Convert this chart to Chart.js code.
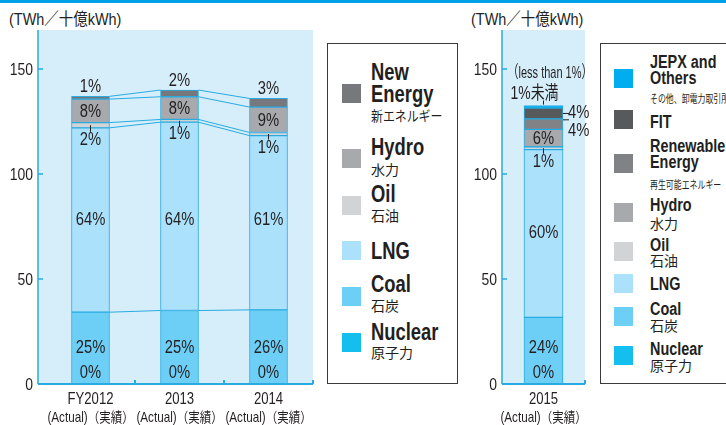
<!DOCTYPE html>
<html>
<head>
<meta charset="utf-8">
<script src="https://cdn.jsdelivr.net/npm/chart.js@4/dist/chart.umd.min.js"></script>
<style>
  html, body { margin: 0; padding: 0; background: #fff; }
  body { width: 726px; height: 425px; position: relative; overflow: hidden;
         font-family: 'Liberation Sans', 'Noto Sans CJK JP', sans-serif; color: #231f20; }
  #topline { position: absolute; left: 0; top: 0; width: 726px; height: 3px; background: #00a0e9; }
  .unit { position: absolute; top: 10px; font-size: 17px; line-height: 20px; white-space: nowrap;
          transform: scaleX(0.85); transform-origin: left center; }
  canvas { position: absolute; top: 0; }
  .legend { position: absolute; top: 43px; height: 339px; border: 1px solid #3a3a3a; background: #fff; }
  .sw { position: absolute; width: 19px; height: 19px; }
  .t { position: absolute; white-space: nowrap; transform-origin: left center; }
  .l1 { left: 43px; }
  .l2 { left: 49px; }
  .en1 { font-weight: bold; font-size: 23px; line-height: 22px; transform: scaleX(0.8); }
  .en2 { font-weight: bold; font-size: 18px; line-height: 16px; transform: scaleX(0.8); }
  .jp { font-family: 'Noto Sans CJK JP', sans-serif; font-size: 14px; line-height: 16px; }
  .jps { font-family: 'Noto Sans CJK JP', sans-serif; font-size: 11px; line-height: 13px; transform: scaleX(0.72); }
</style>
</head>
<body>
<div id="topline"></div>
<div class="unit" style="left:9px">(TWh／十億kWh)</div>
<div class="unit" style="left:471px">(TWh／十億kWh)</div>

<canvas id="chart1" width="325" height="425" style="left:0"></canvas>
<canvas id="chart2" width="140" height="425" style="left:460px"></canvas>

<div class="legend" style="left:327px; width:129px">
  <div class="sw" style="left:14px; top:40px; background:#77787b"></div>
  <div class="t l1 en1" style="top:17px">New</div>
  <div class="t l1 en1" style="top:39px">Energy</div>
  <div class="t l1 jp" style="top:63px; transform:scaleX(0.85)">新エネルギー</div>

  <div class="sw" style="left:14px; top:105px; background:#a7a9ac"></div>
  <div class="t l1 en1" style="top:92px">Hydro</div>
  <div class="t l1 jp" style="top:117px">水力</div>

  <div class="sw" style="left:14px; top:152px; background:#d1d3d4"></div>
  <div class="t l1 en1" style="top:139px">Oil</div>
  <div class="t l1 jp" style="top:163px">石油</div>

  <div class="sw" style="left:14px; top:197px; background:#abe1fa"></div>
  <div class="t l1 en1" style="top:196px">LNG</div>

  <div class="sw" style="left:14px; top:243px; background:#6dcff6"></div>
  <div class="t l1 en1" style="top:229px">Coal</div>
  <div class="t l1 jp" style="top:253px">石炭</div>

  <div class="sw" style="left:14px; top:289px; background:#14bff0"></div>
  <div class="t l1 en1" style="top:277px">Nuclear</div>
  <div class="t l1 jp" style="top:300px">原子力</div>
</div>

<div class="legend" style="left:600px; width:140px">
  <div class="sw" style="left:13px; top:25px; background:#00aeef"></div>
  <div class="t l2 en2" style="top:10px">JEPX and</div>
  <div class="t l2 en2" style="top:26px">Others</div>
  <div class="t l2 jps" style="top:48px">その他、卸電力取引所</div>

  <div class="sw" style="left:13px; top:66px; background:#58595b"></div>
  <div class="t l2 en2" style="top:70px">FIT</div>

  <div class="sw" style="left:13px; top:110px; background:#808285"></div>
  <div class="t l2 en2" style="top:94px">Renewable</div>
  <div class="t l2 en2" style="top:110px">Energy</div>
  <div class="t l2 jps" style="top:134px">再生可能エネルギー</div>

  <div class="sw" style="left:13px; top:159px; background:#a7a9ac"></div>
  <div class="t l2 en2" style="top:153px">Hydro</div>
  <div class="t l2 jp" style="top:171px">水力</div>

  <div class="sw" style="left:13px; top:198px; background:#d1d3d4"></div>
  <div class="t l2 en2" style="top:193px">Oil</div>
  <div class="t l2 jp" style="top:208px">石油</div>

  <div class="sw" style="left:13px; top:230px; background:#abe1fa"></div>
  <div class="t l2 en2" style="top:232px">LNG</div>

  <div class="sw" style="left:13px; top:263px; background:#6dcff6"></div>
  <div class="t l2 en2" style="top:257px">Coal</div>
  <div class="t l2 jp" style="top:273px">石炭</div>

  <div class="sw" style="left:13px; top:302px; background:#14bff0"></div>
  <div class="t l2 en2" style="top:297px">Nuclear</div>
  <div class="t l2 jp" style="top:313px">原子力</div>
</div>

<script>
// FY2012-2014 generation mix (TWh)
const years = ['FY2012', '2013', '2014'];
const nuclear = [0, 0, 0];
const coal = [34.2, 35.0, 35.3];
const lng = [87.8, 89.7, 83.0];
const oil = [2.5, 1.3, 1.5];
const hydro = [11.2, 10.8, 12.1];
const newEnergy = [1.3, 3.2, 4.1];

const nuclearPct = ['0%', '0%', '0%'];
const coalPct = ['25%', '25%', '26%'];
const lngPct = ['64%', '64%', '61%'];
const oilPct = ['2%', '1%', '1%'];
const hydroPct = ['8%', '8%', '9%'];
const newEnergyPct = ['1%', '2%', '3%'];

// FY2015
const years2015 = ['2015'];
const nuclear2015 = [0];
const coal2015 = [31.7];
const lng2015 = [79.9];
const oil2015 = [1.4];
const hydro2015 = [8.3];
const renewable2015 = [5.0];
const fit2015 = [5.1];
const jepx2015 = [1.2];

const nuclear2015Pct = ['0%'];
const coal2015Pct = ['24%'];
const lng2015Pct = ['60%'];
const oil2015Pct = ['1%'];
const hydro2015Pct = ['6%'];
const renewable2015Pct = ['4%'];
const fit2015Pct = ['4%'];
const jepx2015Pct = ['1%未満'];
const jepxNote = '（less than 1%）';

const yTicks = [0, 50, 100, 150];
const actualEn = '(Actual)';
const actualJp = '（実績）';
const yMax = 168.6;

const FONT = "'Liberation Sans', 'Noto Sans CJK JP', sans-serif";
const JP_FONT = "'Noto Sans CJK JP', sans-serif";
const TEXT = '#231f20';
const AXIS = '#29abe2';
const PLOT_BG = '#d6eefa';

// condensed look: squeeze the text to 82% of its width
function narrow(ctx, t, x, y, limit) {
    let w = ctx.measureText(t).width * 0.82;
    if (limit && w > limit) w = limit;
    ctx.fillText(t, x, y, w);
}

function seg(label, data, color, pct, place) {
    return {
        label, data, pct, place,
        backgroundColor: color,
        borderColor: AXIS,
        borderWidth: 1,
        borderSkipped: false
    };
}

// light blue panel + axes + tick labels
const frame = {
    id: 'frame',
    beforeDraw(chart, args, opts) {
        const { ctx, chartArea: a } = chart;
        const x0 = a.left - opts.gap;
        ctx.save();
        ctx.fillStyle = PLOT_BG;
        ctx.fillRect(x0, a.top, a.right - x0, a.bottom - a.top);
        ctx.restore();
    },
    afterDraw(chart, args, opts) {
        const { ctx, chartArea: a, scales: { x, y } } = chart;
        const x0 = a.left - opts.gap;
        ctx.save();
        ctx.strokeStyle = AXIS;
        ctx.lineWidth = 1.5;
        ctx.beginPath();
        ctx.moveTo(x0, a.top);
        ctx.lineTo(x0, a.bottom);
        yTicks.forEach(v => {
            if (v > 0) {
                const py = y.getPixelForValue(v);
                ctx.moveTo(x0, py);
                ctx.lineTo(x0 + 5, py);
            }
        });
        ctx.stroke();
        ctx.lineWidth = 2;
        ctx.beginPath();
        ctx.moveTo(x0, a.bottom);
        ctx.lineTo(a.right, a.bottom);
        const n = chart.data.labels.length;
        for (let i = 0; i < n; i++) {
            const bx = i < n - 1 ? (x.getPixelForValue(i) + x.getPixelForValue(i + 1)) / 2 : a.right;
            ctx.moveTo(bx, a.bottom);
            ctx.lineTo(bx, a.bottom - 4);
        }
        ctx.stroke();

        ctx.fillStyle = TEXT;
        ctx.textBaseline = 'middle';
        ctx.textAlign = 'right';
        ctx.font = '17px ' + FONT;
        yTicks.forEach(v => narrow(ctx, String(v), x0 - 5, y.getPixelForValue(v) + 1));

        chart.data.labels.forEach((lab, i) => {
            const px = x.getPixelForValue(i);
            ctx.textAlign = 'center';
            ctx.font = '16px ' + FONT;
            narrow(ctx, lab, px, a.bottom + 16);
            // "(Actual)" condensed latin + "（実績）" slightly squeezed CJK
            ctx.font = '15px ' + FONT;
            const w1 = ctx.measureText(actualEn).width * 0.78;
            ctx.font = '14px ' + JP_FONT;
            const w2 = ctx.measureText(actualJp).width * 0.82;
            const sx = px - (w1 + w2) / 2;
            ctx.textAlign = 'left';
            ctx.font = '15px ' + FONT;
            ctx.fillText(actualEn, sx, a.bottom + 34, w1);
            ctx.font = '14px ' + JP_FONT;
            ctx.fillText(actualJp, sx + w1, a.bottom + 33, w2);
        });
        ctx.restore();
    }
};

// lines joining the stack boundaries of neighbouring bars
const connectors = {
    id: 'connectors',
    afterDatasetsDraw(chart) {
        const ctx = chart.ctx;
        ctx.save();
        ctx.strokeStyle = AXIS;
        ctx.lineWidth = 1;
        chart.data.datasets.forEach((ds, di) => {
            const bars = chart.getDatasetMeta(di).data;
            for (let i = 0; i < bars.length - 1; i++) {
                const a = bars[i], b = bars[i + 1];
                ctx.beginPath();
                ctx.moveTo(a.x + a.width / 2, a.y);
                ctx.lineTo(b.x - b.width / 2, b.y);
                ctx.stroke();
            }
        });
        ctx.restore();
    }
};

const pctLabels = {
    id: 'pctLabels',
    afterDatasetsDraw(chart) {
        const ctx = chart.ctx;
        const ys = chart.scales.y;
        ctx.save();
        ctx.fillStyle = TEXT;
        ctx.strokeStyle = TEXT;
        ctx.lineWidth = 1;
        ctx.font = '18px ' + FONT;
        ctx.textBaseline = 'middle';
        chart.data.datasets.forEach((ds, di) => {
            chart.getDatasetMeta(di).data.forEach((bar, i) => {
                const t = ds.pct[i];
                const p = ds.place;
                const mid = (bar.y + bar.base) / 2;
                const right = bar.x + bar.width / 2;
                ctx.textAlign = 'center';
                if (typeof p === 'number') {
                    narrow(ctx, t, bar.x, ys.getPixelForValue(p));
                } else if (p === 'mid') {
                    narrow(ctx, t, bar.x, mid + 1);
                } else if (p === 'below') {
                    ctx.beginPath();
                    ctx.moveTo(bar.x, mid);
                    ctx.lineTo(bar.x, bar.base + 4);
                    ctx.stroke();
                    narrow(ctx, t, bar.x, bar.base + 12);
                } else if (p === 'above') {
                    narrow(ctx, t, bar.x, bar.y - 9);
                } else if (p === 'side' || p === 'sideLow') {
                    const ty = p === 'side' ? mid : bar.y + 1;
                    const tx = p === 'side' ? mid : bar.base + 2;
                    ctx.beginPath();
                    ctx.moveTo(right, ty);
                    ctx.lineTo(right + 6, ty);
                    ctx.stroke();
                    ctx.textAlign = 'left';
                    narrow(ctx, t, right + 5, tx);
                } else if (p === 'note') {
                    // note block sits left-aligned above the bar
                    const lx = bar.x - 34;
                    ctx.beginPath();
                    ctx.moveTo(bar.x, bar.y - 5);
                    ctx.lineTo(bar.x, bar.y - 1);
                    ctx.stroke();
                    ctx.textAlign = 'left';
                    narrow(ctx, t, lx + 1, bar.y - 12, 48);
                    ctx.font = '17px ' + FONT;
                    narrow(ctx, jepxNote, lx - 2, bar.y - 32, 85);
                    ctx.font = '18px ' + FONT;
                }
            });
        });
        ctx.restore();
    }
};

function yScale(width) {
    return {
        stacked: true,
        min: 0,
        max: yMax,
        afterFit(s) { s.width = width; },
        grid: { display: false, drawTicks: false },
        border: { display: false },
        ticks: { display: false, stepSize: 50, includeBounds: false }
    };
}

new Chart(document.getElementById('chart1'), {
    type: 'bar',
    data: {
        labels: years,
        datasets: [
            seg('Nuclear', nuclear, '#14bff0', nuclearPct, 5.2),
            seg('Coal', coal, '#6dcff6', coalPct, 17),
            seg('LNG', lng, '#abe1fa', lngPct, 78),
            seg('Oil', oil, '#d1d3d4', oilPct, 'below'),
            seg('Hydro', hydro, '#a7a9ac', hydroPct, 'mid'),
            seg('New Energy', newEnergy, '#77787b', newEnergyPct, 'above')
        ]
    },
    options: {
        responsive: false,
        animation: false,
        layout: { padding: { top: 30, right: 12, bottom: 41, left: 0 } },
        datasets: { bar: { barThickness: 38 } },
        scales: {
            x: { stacked: true, display: false },
            y: yScale(46)
        },
        plugins: {
            legend: { display: false },
            tooltip: { enabled: false },
            frame: { gap: 8 }
        }
    },
    plugins: [frame, connectors, pctLabels]
});

new Chart(document.getElementById('chart2'), {
    type: 'bar',
    data: {
        labels: years2015,
        datasets: [
            seg('Nuclear', nuclear2015, '#14bff0', nuclear2015Pct, 5.2),
            seg('Coal', coal2015, '#6dcff6', coal2015Pct, 17),
            seg('LNG', lng2015, '#abe1fa', lng2015Pct, 72),
            seg('Oil', oil2015, '#d1d3d4', oil2015Pct, 'below'),
            seg('Hydro', hydro2015, '#a7a9ac', hydro2015Pct, 'mid'),
            seg('Renewable Energy', renewable2015, '#808285', renewable2015Pct, 'sideLow'),
            seg('FIT', fit2015, '#58595b', fit2015Pct, 'side'),
            seg('JEPX and Others', jepx2015, '#00aeef', jepx2015Pct, 'note')
        ]
    },
    options: {
        responsive: false,
        animation: false,
        layout: { padding: { top: 30, right: 15, bottom: 41, left: 0 } },
        datasets: { bar: { barThickness: 39 } },
        scales: {
            x: { stacked: true, display: false },
            y: yScale(42)
        },
        plugins: {
            legend: { display: false },
            tooltip: { enabled: false },
            frame: { gap: 0 }
        }
    },
    plugins: [frame, pctLabels]
});
</script>
</body>
</html>
